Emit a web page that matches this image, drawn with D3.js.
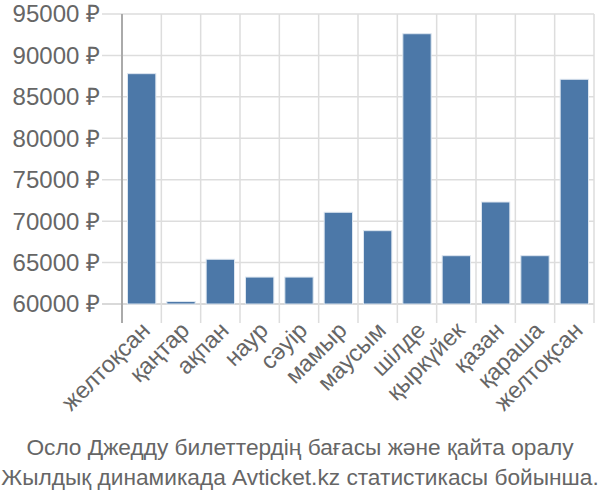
<!DOCTYPE html>
<html><head><meta charset="utf-8">
<script src="https://cdn.jsdelivr.net/npm/d3@7"></script>
<style>body{margin:0;background:#fff}svg{display:block}text{font-family:"Liberation Sans",Arial,sans-serif;fill:#666}</style>
</head><body>
<svg id="c" width="600" height="500"></svg>
<script>
const months = ["желтоқсан","қаңтар","ақпан","наур","сәуір","мамыр","маусым","шілде","қыркүйек","қазан","қараша","желтоқсан"];
const prices = [87800, 60300, 65400, 63250, 63250, 71070, 68850, 92620, 65830, 72310, 65830, 87120];
const yTicks = [60000, 65000, 70000, 75000, 80000, 85000, 90000, 95000];
const titleLines = ["Осло Джедду билеттердің бағасы және қайта оралу","Жылдық динамикада Avticket.kz статистикасы бойынша."];

const svg = d3.select("#c");
const pLeft = 122, pRight = 594, pTop = 14, pBottom = 304;
const x = d3.scaleBand().domain(d3.range(months.length)).range([pLeft, pRight]).padding(0);
const y = d3.scaleLinear().domain([60000, 95000]).range([pBottom, pTop]);
const step = x.step();

// horizontal grid
svg.append("g").selectAll("line").data(yTicks).join("line")
  .attr("x1", pLeft - 20).attr("x2", pRight)
  .attr("y1", d => y(d)).attr("y2", d => y(d))
  .attr("stroke", d => d === 60000 ? "#ccc" : "#ddd").attr("stroke-width", 1.5);
// vertical grid
const bounds = d3.range(months.length + 1).map(i => i < months.length ? x(i) : x(months.length - 1) + step);
svg.append("g").selectAll("line").data(bounds).join("line")
  .attr("x1", d => d).attr("x2", d => d)
  .attr("y1", pTop).attr("y2", pBottom + 19)
  .attr("stroke", (d, i) => i === 0 ? "#aaa" : "#ddd").attr("stroke-width", (d, i) => i === 0 ? 2 : 1.5);

// y labels
svg.append("g").selectAll("text").data(yTicks).join("text")
  .attr("x", 100).attr("y", d => y(d)).attr("dy", "0.35em")
  .attr("text-anchor", "end").style("font-size", "24px")
  .text(d => d + " ₽");

// bars
svg.append("g").selectAll("rect").data(prices).join("rect")
  .attr("x", (d, i) => x(i) + step * 0.14)
  .attr("width", step * 0.72)
  .attr("y", d => y(d)).attr("height", d => pBottom - y(d))
  .attr("fill", "#4c78a8").attr("stroke", "#dde6f0").attr("stroke-width", 1);

// x labels
svg.append("g").selectAll("text").data(months).join("text")
  .attr("transform", (d, i) => `translate(${x(i) + step / 2 + 4},${pBottom + 22}) rotate(-45)`)
  .attr("text-anchor", "end").attr("dy", "0.35em").style("font-size", "23.5px")
  .text(d => d);

// title
svg.append("g").selectAll("text").data(titleLines).join("text")
  .attr("x", 300).attr("y", (d, i) => 455 + i * 30)
  .attr("text-anchor", "middle").style("font-size", "22.7px")
  .text(d => d);
</script>
</body></html>
